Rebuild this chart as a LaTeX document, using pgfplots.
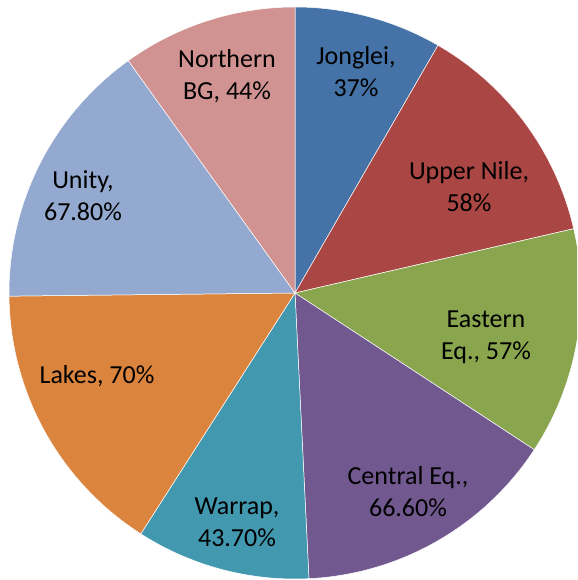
\documentclass[border=0pt]{standalone}
\usepackage{pgfplots}
\usepackage{pgfplotstable}
\pgfplotsset{compat=1.18}
\usepackage{fontspec}
\setmainfont{Carlito}
\definecolor{cJ}{HTML}{4572A7}
\definecolor{cU}{HTML}{AA4643}
\definecolor{cE}{HTML}{89A54E}
\definecolor{cC}{HTML}{71588F}
\definecolor{cW}{HTML}{4198AF}
\definecolor{cL}{HTML}{DB843D}
\definecolor{cUn}{HTML}{93A9CF}
\definecolor{cN}{HTML}{D19392}
\pgfplotstableread{
name value color
Jonglei 37 cJ
UpperNile 58 cU
EasternEq 57 cE
CentralEq 66.6 cC
Warrap 43.7 cW
Lakes 70 cL
Unity 67.8 cUn
NorthernBG 44 cN
}\piedata
\begin{document}
\begin{tikzpicture}
\pgfmathsetmacro\total{0}
\pgfplotsforeachungrouped \i in {0,...,7}{%
  \pgfplotstablegetelem{\i}{value}\of\piedata
  \pgfmathsetmacro\total{\total+\pgfplotsretval}%
  \global\let\total\total
}
\begin{axis}[
  hide axis, scale only axis, clip=true,
  width=577bp, height=580bp,
  xmin=0, xmax=577, ymin=0, ymax=580,
]
\path[draw=none] (rel axis cs:0,0) rectangle (rel axis cs:1,1);
\def\a{90}
\pgfplotsforeachungrouped \i in {0,...,7}{%
  \pgfplotstablegetelem{\i}{value}\of\piedata \let\v\pgfplotsretval
  \pgfplotstablegetelem{\i}{color}\of\piedata \let\c\pgfplotsretval
  \pgfmathsetmacro\b{\a - \v/\total*360}%
  \edef\temp{\noexpand\addplot[fill=\c, draw=white, line width=0.5bp, domain=\b:\a, samples=90, variable=\noexpand\t] ({295+286*cos(\noexpand\t)},{287+286*sin(\noexpand\t)}) -- (axis cs:295,287) -- cycle;}%
  \temp
  \global\let\a\b
}
\begin{scope}[every node/.style={align=center, font=\fontsize{26bp}{32bp}\selectfont, text=black}]
\node at (axis cs:356,508) {Jonglei,\\37\%};
\node at (axis cs:469,393) {Upper Nile,\\58\%};
\node at (axis cs:486,243) {Eastern\\Eq., 57\%};
\node at (axis cs:408,88) {Central Eq.,\\66.60\%};
\node at (axis cs:237,58) {Warrap,\\43.70\%};
\node at (axis cs:97,204) {Lakes, 70\%};
\node at (axis cs:83,384) {Unity,\\67.80\%};
\node at (axis cs:227,504) {Northern\\BG, 44\%};
\end{scope}
\end{axis}
\end{tikzpicture}
\end{document}
